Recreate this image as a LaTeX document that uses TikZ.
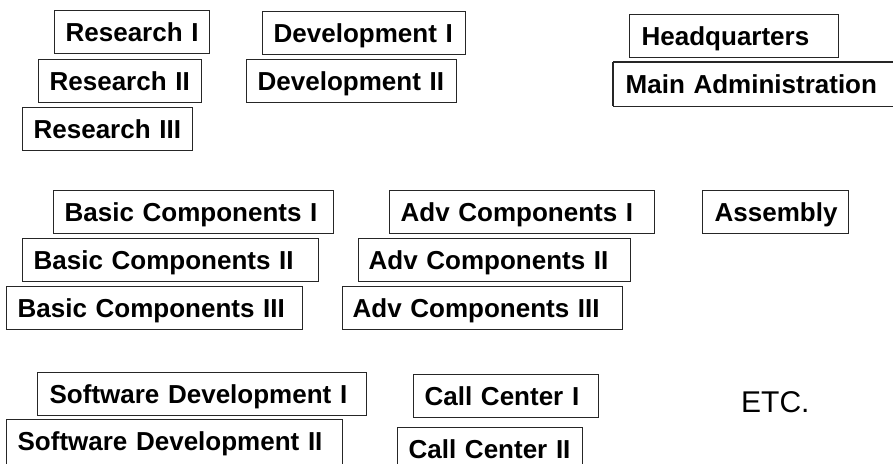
\documentclass[tikz,border=0pt]{standalone}
\usepackage{fontspec}
\setmainfont{Liberation Sans}
\usetikzlibrary{positioning}

\begin{document}
\begin{tikzpicture}[
    x=1pt, y=-1pt,
    unit/.style={draw=black!85, line width=1.3pt, anchor=north west,
        font=\fontsize{26}{30}\selectfont\bfseries, align=left,
        inner xsep=11pt, inner ysep=0pt, minimum height=43pt,
        text height=18.6pt, text depth=0pt},
    % lower boxes run past the bottom edge
    tall/.style={minimum height=50pt, text depth=7pt},
    % open box, cut off at the right edge
    openright/.style={draw=none, append after command={
        (\tikzlastnode.north east) edge[draw=black!85, line width=1.3pt] (\tikzlastnode.north west)
        (\tikzlastnode.north west) edge[draw=black!85, line width=1.3pt] (\tikzlastnode.south west)
        (\tikzlastnode.south west) edge[draw=black!85, line width=1.3pt] (\tikzlastnode.south east)}}
]
\useasboundingbox (0,0) rectangle (893,463);
\clip (0,0) rectangle (893,463);

% Research and development
\node[unit, text width=133pt] (R1) at (54,10)  {Research I};
\node[unit, text width=141pt] (R2) at (38,59)  {Research II};
\node[unit, text width=148pt] (R3) at (22,107) {Research III};
\node[unit, text width=181pt] (D1) at (262,11) {Development I};
\node[unit, text width=188pt] (D2) at (246,59) {Development II};

% Head office
\node[unit, text width=185pt, inner xsep=12pt] (HQ) at (629,14) {Headquarters};
\node[unit, openright, text width=270pt, inner xsep=12pt] (MA) at (613,62) {Main Administration};

% Components and assembly
\node[unit, text width=258pt] (BC1) at (53,190) {Basic Components I};
\node[unit, text width=274pt] (BC2) at (22,238) {Basic Components II};
\node[unit, text width=274pt] (BC3) at (6,286)  {Basic Components III};
\node[unit, text width=243pt] (AC1) at (389,190) {Adv Components I};
\node[unit, text width=252pt, inner xsep=10pt] (AC2) at (358,238) {Adv Components II};
\node[unit, text width=260pt, inner xsep=10pt] (AC3) at (342,286) {Adv Components III};
\node[unit, text width=122pt, inner xsep=12pt] (AS) at (702,190) {Assembly};

% Software and call centers
\node[unit, text width=305pt, inner xsep=12pt] (SD1) at (37,372) {Software Development I};
\node[unit, tall, text width=314pt] (SD2) at (6,419)  {Software Development II};
\node[unit, text width=163pt] (CC1) at (413,374) {Call Center I};
\node[unit, tall, text width=163pt] (CC2) at (397,427) {Call Center II};

\node[anchor=base west, inner sep=0pt, font=\fontsize{30}{34}\selectfont] (etc) at (741,412) {ETC.};

\end{tikzpicture}
\end{document}
